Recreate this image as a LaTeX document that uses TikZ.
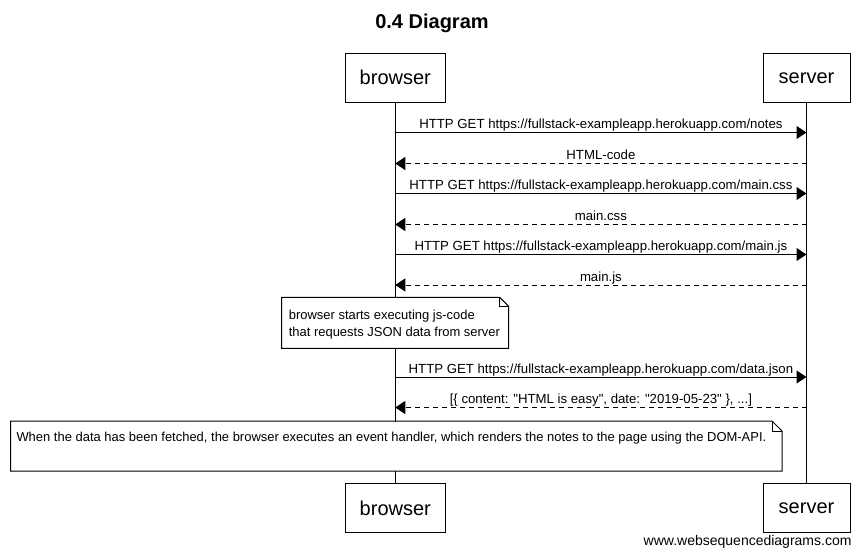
\documentclass[tikz,border=0pt]{standalone}
\usepackage{fontspec}
\setmainfont{Liberation Sans}
\usetikzlibrary{arrows.meta}

\begin{document}
\begin{tikzpicture}[x=1pt, y=-1pt, line width=1pt,
			actor/.style = {rectangle,draw,fill=white,minimum height=49pt,font=\fontsize{20}{24}\selectfont},
			msg/.style = {-{Triangle[length=10pt,width=13pt]}},
			reply/.style = {msg,dash pattern=on 5pt off 4pt},
			msglabel/.style = {anchor=base,yshift=4pt,inner sep=0pt,font=\fontsize{13.2}{16}\selectfont},
			note/.style = {rectangle,fill=white,inner sep=0pt},
			notetext/.style = {align=left,inner sep=0pt,font=\fontsize{12.97}{16.4}\selectfont}]

\useasboundingbox (0,0) rectangle (864,556);

\node[anchor=base, inner sep=0pt, font=\bfseries\fontsize{20}{24}\selectfont] (title) at (432,29) {0.4 Diagram};

\node[actor, minimum width=100.5pt] (b) at (395.3,77.8) {browser};
\node[actor, minimum width=87pt] (s) at (806.5,77.8) {server};
\node[actor, minimum width=100.5pt] (bb) at (395.3,508.2) {browser};
\node[actor, minimum width=87pt] (sb) at (806.5,508.2) {server};

\draw (b) -- (bb);
\draw (s) -- (sb);

\coordinate (b1) at (395.3,132.5);
\coordinate (s1) at (806.5,132.5);
\coordinate (b2) at (395.3,163.5);
\coordinate (s2) at (806.5,163.5);
\coordinate (b3) at (395.3,193.5);
\coordinate (s3) at (806.5,193.5);
\coordinate (b4) at (395.3,224.5);
\coordinate (s4) at (806.5,224.5);
\coordinate (b5) at (395.3,254.5);
\coordinate (s5) at (806.5,254.5);
\coordinate (b6) at (395.3,285);
\coordinate (s6) at (806.5,285);
\coordinate (b7) at (395.3,377);
\coordinate (s7) at (806.5,377);
\coordinate (b8) at (395.3,407.5);
\coordinate (s8) at (806.5,407.5);

\draw[msg] (b1) -- (s1) node[msglabel, midway] {HTTP GET https://fullstack-exampleapp.herokuapp.com/notes};
\draw[reply] (s2) -- (b2) node[msglabel, midway] {HTML-code};
\draw[msg] (b3) -- (s3) node[msglabel, midway] {HTTP GET https://fullstack-exampleapp.herokuapp.com/main.css};
\draw[reply] (s4) -- (b4) node[msglabel, midway] {main.css};
\draw[msg] (b5) -- (s5) node[msglabel, midway] {HTTP GET https://fullstack-exampleapp.herokuapp.com/main.js};
\draw[reply] (s6) -- (b6) node[msglabel, midway] {main.js};
\draw[msg] (b7) -- (s7) node[msglabel, midway] {HTTP GET https://fullstack-exampleapp.herokuapp.com/data.json};
\draw[reply] (s8) -- (b8) node[msglabel, midway] {[\{ content: \textquotedbl HTML is easy\textquotedbl, date: \textquotedbl 2019-05-23\textquotedbl\ \}, ...]};

\node[note, minimum width=226pt, minimum height=50pt, anchor=north west] (n1) at (281.7,297.3) {};
\draw (n1.north west) -- ([xshift=-9pt]n1.north east) -- ([yshift=-9pt]n1.north east) -- (n1.south east) -- (n1.south west) -- cycle;
\draw ([xshift=-9pt]n1.north east) |- ([yshift=-9pt]n1.north east);
\node[notetext, anchor=north west] (t1) at (288.3,309.8) {browser starts executing js-code\\that requests JSON data from server};

\node[note, minimum width=770.3pt, minimum height=49pt, anchor=north west] (n2) at (10.7,421) {};
\draw (n2.north west) -- ([xshift=-10pt]n2.north east) -- ([yshift=-10pt]n2.north east) -- (n2.south east) -- (n2.south west) -- cycle;
\draw ([xshift=-10pt]n2.north east) |- ([yshift=-10pt]n2.north east);
\node[notetext, anchor=base west] (t2) at (16,441.7) {When the data has been fetched, the browser executes an event handler, which renders the notes to the page using the DOM-API.};

\node[anchor=base east, inner sep=0pt, font=\fontsize{14}{17}\selectfont] (wsd) at (852,545) {www.websequencediagrams.com};

\end{tikzpicture}
\end{document}
